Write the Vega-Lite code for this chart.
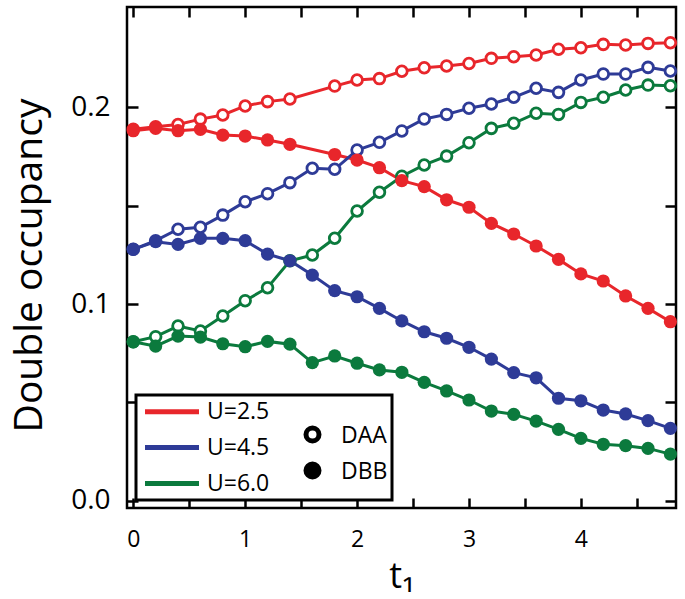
{
  "$schema": "https://vega.github.io/schema/vega-lite/v6.json",
  "width": 549,
  "height": 501,
  "autosize": {"type": "none"},
  "padding": {"left": 127, "top": 7, "right": 9, "bottom": 91},
  "config": {
    "font": "Open Sans",
    "view": {"stroke": "black", "strokeWidth": 2.5},
    "legend": {"strokeWidth": 3},
    "axis": {"labelColor": "black", "titleColor": "black", "tickColor": "black", "tickWidth": 2.5, "domain": false, "grid": false, "labelFlush": false, "titleFontWeight": "normal"}
  },
  "data": {
    "values": [
      {"U": "U=2.5", "type": "DAA", "t": 0.0, "D": 0.1888}, {"U": "U=2.5", "type": "DAA", "t": 0.2, "D": 0.1901}, {"U": "U=2.5", "type": "DAA", "t": 0.4, "D": 0.1913}, {"U": "U=2.5", "type": "DAA", "t": 0.6, "D": 0.1940}, {"U": "U=2.5", "type": "DAA", "t": 0.8, "D": 0.1961}, {"U": "U=2.5", "type": "DAA", "t": 1.0, "D": 0.2007}, {"U": "U=2.5", "type": "DAA", "t": 1.2, "D": 0.2029}, {"U": "U=2.5", "type": "DAA", "t": 1.4, "D": 0.2042}, {"U": "U=2.5", "type": "DAA", "t": 1.8, "D": 0.2108}, {"U": "U=2.5", "type": "DAA", "t": 2.0, "D": 0.2139}, {"U": "U=2.5", "type": "DAA", "t": 2.2, "D": 0.2146}, {"U": "U=2.5", "type": "DAA", "t": 2.4, "D": 0.2183}, {"U": "U=2.5", "type": "DAA", "t": 2.6, "D": 0.2201}, {"U": "U=2.5", "type": "DAA", "t": 2.8, "D": 0.2210}, {"U": "U=2.5", "type": "DAA", "t": 3.0, "D": 0.2223}, {"U": "U=2.5", "type": "DAA", "t": 3.2, "D": 0.2249}, {"U": "U=2.5", "type": "DAA", "t": 3.4, "D": 0.2257}, {"U": "U=2.5", "type": "DAA", "t": 3.6, "D": 0.2266}, {"U": "U=2.5", "type": "DAA", "t": 3.8, "D": 0.2295}, {"U": "U=2.5", "type": "DAA", "t": 4.0, "D": 0.2303}, {"U": "U=2.5", "type": "DAA", "t": 4.2, "D": 0.2320}, {"U": "U=2.5", "type": "DAA", "t": 4.4, "D": 0.2317}, {"U": "U=2.5", "type": "DAA", "t": 4.6, "D": 0.2325}, {"U": "U=2.5", "type": "DAA", "t": 4.8, "D": 0.2328},
      {"U": "U=2.5", "type": "DBB", "t": 0.0, "D": 0.1881}, {"U": "U=2.5", "type": "DBB", "t": 0.2, "D": 0.1893}, {"U": "U=2.5", "type": "DBB", "t": 0.4, "D": 0.1881}, {"U": "U=2.5", "type": "DBB", "t": 0.6, "D": 0.1888}, {"U": "U=2.5", "type": "DBB", "t": 0.8, "D": 0.1859}, {"U": "U=2.5", "type": "DBB", "t": 1.0, "D": 0.1854}, {"U": "U=2.5", "type": "DBB", "t": 1.2, "D": 0.1834}, {"U": "U=2.5", "type": "DBB", "t": 1.4, "D": 0.1812}, {"U": "U=2.5", "type": "DBB", "t": 1.8, "D": 0.1760}, {"U": "U=2.5", "type": "DBB", "t": 2.0, "D": 0.1732}, {"U": "U=2.5", "type": "DBB", "t": 2.2, "D": 0.1693}, {"U": "U=2.5", "type": "DBB", "t": 2.4, "D": 0.1627}, {"U": "U=2.5", "type": "DBB", "t": 2.6, "D": 0.1597}, {"U": "U=2.5", "type": "DBB", "t": 2.8, "D": 0.1530}, {"U": "U=2.5", "type": "DBB", "t": 3.0, "D": 0.1492}, {"U": "U=2.5", "type": "DBB", "t": 3.2, "D": 0.1410}, {"U": "U=2.5", "type": "DBB", "t": 3.4, "D": 0.1356}, {"U": "U=2.5", "type": "DBB", "t": 3.6, "D": 0.1295}, {"U": "U=2.5", "type": "DBB", "t": 3.8, "D": 0.1227}, {"U": "U=2.5", "type": "DBB", "t": 4.0, "D": 0.1153}, {"U": "U=2.5", "type": "DBB", "t": 4.2, "D": 0.1117}, {"U": "U=2.5", "type": "DBB", "t": 4.4, "D": 0.1041}, {"U": "U=2.5", "type": "DBB", "t": 4.6, "D": 0.0978}, {"U": "U=2.5", "type": "DBB", "t": 4.8, "D": 0.0910},
      {"U": "U=4.5", "type": "DAA", "t": 0.0, "D": 0.1278}, {"U": "U=4.5", "type": "DAA", "t": 0.2, "D": 0.1322}, {"U": "U=4.5", "type": "DAA", "t": 0.4, "D": 0.1380}, {"U": "U=4.5", "type": "DAA", "t": 0.6, "D": 0.1390}, {"U": "U=4.5", "type": "DAA", "t": 0.8, "D": 0.1452}, {"U": "U=4.5", "type": "DAA", "t": 1.0, "D": 0.1520}, {"U": "U=4.5", "type": "DAA", "t": 1.2, "D": 0.1561}, {"U": "U=4.5", "type": "DAA", "t": 1.4, "D": 0.1617}, {"U": "U=4.5", "type": "DAA", "t": 1.6, "D": 0.1690}, {"U": "U=4.5", "type": "DAA", "t": 1.8, "D": 0.1685}, {"U": "U=4.5", "type": "DAA", "t": 2.0, "D": 0.1783}, {"U": "U=4.5", "type": "DAA", "t": 2.2, "D": 0.1822}, {"U": "U=4.5", "type": "DAA", "t": 2.4, "D": 0.1880}, {"U": "U=4.5", "type": "DAA", "t": 2.6, "D": 0.1941}, {"U": "U=4.5", "type": "DAA", "t": 2.8, "D": 0.1964}, {"U": "U=4.5", "type": "DAA", "t": 3.0, "D": 0.1995}, {"U": "U=4.5", "type": "DAA", "t": 3.2, "D": 0.2017}, {"U": "U=4.5", "type": "DAA", "t": 3.4, "D": 0.2051}, {"U": "U=4.5", "type": "DAA", "t": 3.6, "D": 0.2097}, {"U": "U=4.5", "type": "DAA", "t": 3.8, "D": 0.2076}, {"U": "U=4.5", "type": "DAA", "t": 4.0, "D": 0.2139}, {"U": "U=4.5", "type": "DAA", "t": 4.2, "D": 0.2169}, {"U": "U=4.5", "type": "DAA", "t": 4.4, "D": 0.2169}, {"U": "U=4.5", "type": "DAA", "t": 4.6, "D": 0.2203}, {"U": "U=4.5", "type": "DAA", "t": 4.8, "D": 0.2185},
      {"U": "U=4.5", "type": "DBB", "t": 0.0, "D": 0.1278}, {"U": "U=4.5", "type": "DBB", "t": 0.2, "D": 0.1317}, {"U": "U=4.5", "type": "DBB", "t": 0.4, "D": 0.1303}, {"U": "U=4.5", "type": "DBB", "t": 0.6, "D": 0.1334}, {"U": "U=4.5", "type": "DBB", "t": 0.8, "D": 0.1334}, {"U": "U=4.5", "type": "DBB", "t": 1.0, "D": 0.1322}, {"U": "U=4.5", "type": "DBB", "t": 1.2, "D": 0.1254}, {"U": "U=4.5", "type": "DBB", "t": 1.4, "D": 0.1220}, {"U": "U=4.5", "type": "DBB", "t": 1.6, "D": 0.1147}, {"U": "U=4.5", "type": "DBB", "t": 1.8, "D": 0.1068}, {"U": "U=4.5", "type": "DBB", "t": 2.0, "D": 0.1037}, {"U": "U=4.5", "type": "DBB", "t": 2.2, "D": 0.0978}, {"U": "U=4.5", "type": "DBB", "t": 2.4, "D": 0.0914}, {"U": "U=4.5", "type": "DBB", "t": 2.6, "D": 0.0859}, {"U": "U=4.5", "type": "DBB", "t": 2.8, "D": 0.0826}, {"U": "U=4.5", "type": "DBB", "t": 3.0, "D": 0.0780}, {"U": "U=4.5", "type": "DBB", "t": 3.2, "D": 0.0720}, {"U": "U=4.5", "type": "DBB", "t": 3.4, "D": 0.0651}, {"U": "U=4.5", "type": "DBB", "t": 3.6, "D": 0.0625}, {"U": "U=4.5", "type": "DBB", "t": 3.8, "D": 0.0521}, {"U": "U=4.5", "type": "DBB", "t": 4.0, "D": 0.0508}, {"U": "U=4.5", "type": "DBB", "t": 4.2, "D": 0.0461}, {"U": "U=4.5", "type": "DBB", "t": 4.4, "D": 0.0441}, {"U": "U=4.5", "type": "DBB", "t": 4.6, "D": 0.0407}, {"U": "U=4.5", "type": "DBB", "t": 4.8, "D": 0.0368},
      {"U": "U=6.0", "type": "DAA", "t": 0.0, "D": 0.0808}, {"U": "U=6.0", "type": "DAA", "t": 0.2, "D": 0.0834}, {"U": "U=6.0", "type": "DAA", "t": 0.4, "D": 0.0888}, {"U": "U=6.0", "type": "DAA", "t": 0.6, "D": 0.0863}, {"U": "U=6.0", "type": "DAA", "t": 0.8, "D": 0.0939}, {"U": "U=6.0", "type": "DAA", "t": 1.0, "D": 0.1017}, {"U": "U=6.0", "type": "DAA", "t": 1.2, "D": 0.1083}, {"U": "U=6.0", "type": "DAA", "t": 1.4, "D": 0.1220}, {"U": "U=6.0", "type": "DAA", "t": 1.6, "D": 0.1249}, {"U": "U=6.0", "type": "DAA", "t": 1.8, "D": 0.1334}, {"U": "U=6.0", "type": "DAA", "t": 2.0, "D": 0.1473}, {"U": "U=6.0", "type": "DAA", "t": 2.2, "D": 0.1568}, {"U": "U=6.0", "type": "DAA", "t": 2.4, "D": 0.1650}, {"U": "U=6.0", "type": "DAA", "t": 2.6, "D": 0.1707}, {"U": "U=6.0", "type": "DAA", "t": 2.8, "D": 0.1752}, {"U": "U=6.0", "type": "DAA", "t": 3.0, "D": 0.1820}, {"U": "U=6.0", "type": "DAA", "t": 3.2, "D": 0.1893}, {"U": "U=6.0", "type": "DAA", "t": 3.4, "D": 0.1919}, {"U": "U=6.0", "type": "DAA", "t": 3.6, "D": 0.1970}, {"U": "U=6.0", "type": "DAA", "t": 3.8, "D": 0.1964}, {"U": "U=6.0", "type": "DAA", "t": 4.0, "D": 0.2025}, {"U": "U=6.0", "type": "DAA", "t": 4.2, "D": 0.2051}, {"U": "U=6.0", "type": "DAA", "t": 4.4, "D": 0.2088}, {"U": "U=6.0", "type": "DAA", "t": 4.6, "D": 0.2113}, {"U": "U=6.0", "type": "DAA", "t": 4.8, "D": 0.2110},
      {"U": "U=6.0", "type": "DBB", "t": 0.0, "D": 0.0808}, {"U": "U=6.0", "type": "DBB", "t": 0.2, "D": 0.0786}, {"U": "U=6.0", "type": "DBB", "t": 0.4, "D": 0.0837}, {"U": "U=6.0", "type": "DBB", "t": 0.6, "D": 0.0832}, {"U": "U=6.0", "type": "DBB", "t": 0.8, "D": 0.0798}, {"U": "U=6.0", "type": "DBB", "t": 1.0, "D": 0.0783}, {"U": "U=6.0", "type": "DBB", "t": 1.2, "D": 0.0810}, {"U": "U=6.0", "type": "DBB", "t": 1.4, "D": 0.0796}, {"U": "U=6.0", "type": "DBB", "t": 1.6, "D": 0.0702}, {"U": "U=6.0", "type": "DBB", "t": 1.8, "D": 0.0736}, {"U": "U=6.0", "type": "DBB", "t": 2.0, "D": 0.0699}, {"U": "U=6.0", "type": "DBB", "t": 2.2, "D": 0.0665}, {"U": "U=6.0", "type": "DBB", "t": 2.4, "D": 0.0653}, {"U": "U=6.0", "type": "DBB", "t": 2.6, "D": 0.0602}, {"U": "U=6.0", "type": "DBB", "t": 2.8, "D": 0.0558}, {"U": "U=6.0", "type": "DBB", "t": 3.0, "D": 0.0512}, {"U": "U=6.0", "type": "DBB", "t": 3.2, "D": 0.0456}, {"U": "U=6.0", "type": "DBB", "t": 3.4, "D": 0.0439}, {"U": "U=6.0", "type": "DBB", "t": 3.6, "D": 0.0405}, {"U": "U=6.0", "type": "DBB", "t": 3.8, "D": 0.0363}, {"U": "U=6.0", "type": "DBB", "t": 4.0, "D": 0.0317}, {"U": "U=6.0", "type": "DBB", "t": 4.2, "D": 0.0287}, {"U": "U=6.0", "type": "DBB", "t": 4.4, "D": 0.0280}, {"U": "U=6.0", "type": "DBB", "t": 4.6, "D": 0.0266}, {"U": "U=6.0", "type": "DBB", "t": 4.8, "D": 0.0237}
    ]
  },
  "layer": [
    {
      "mark": {"type": "line", "strokeWidth": 3},
      "encoding": {
        "detail": {"field": "type"},
        "color": {
          "field": "U", "type": "nominal",
          "scale": {"domain": ["U=2.5", "U=4.5", "U=6.0", " ", "DAA", "DBB"], "range": ["#e8262b", "#2e3b97", "#0b7a3d", "transparent", "black", "black"]},
          "legend": {
            "orient": "none", "legendX": 9, "legendY": 388, "title": null,
            "columns": 2, "columnPadding": 25, "rowPadding": -6, "padding": 4,
            "symbolSize": 400, "symbolStrokeWidth": 5,
            "symbolType": {"expr": "datum.value === 'DAA' ? 'M0.65,-1.3A0.65,0.65,0,1,1,-0.65,-1.3A0.65,0.65,0,1,1,0.65,-1.3ZM0.65,-1.3A0.65,0.65,0,1,0,-0.65,-1.3A0.65,0.65,0,1,0,0.65,-1.3Z' : (datum.value === 'DBB' ? 'M0.65,-1.3A0.65,0.65,0,1,1,-0.65,-1.3A0.65,0.65,0,1,1,0.65,-1.3Z' : 'M-0.75,0H4.65')"},
            "labelFontSize": 23, "labelColor": "black",
            "labelOffset": {"expr": "(datum.value === 'DAA' || datum.value === 'DBB') ? 16 : 42"},
            "labelBaseline": {"expr": "(datum.value === 'DAA' || datum.value === 'DBB') ? 'bottom' : 'middle'"},
            "strokeColor": "black", "fillColor": "white"
          }
        },
        "x": {"field": "t", "type": "quantitative", "scale": {"domain": [-0.056, 4.85], "nice": false, "zero": false},
          "axis": {"orient": "bottom", "values": [0, 0.5, 1, 1.5, 2, 2.5, 3, 3.5, 4, 4.5], "labelExpr": "datum.value % 1 === 0 ? format(datum.value, 'd') : ''",
            "tickSize": -10, "labelPadding": 30, "labelFontSize": 23, "title": "t₁", "titleFontSize": 36, "titlePadding": 8,
            "encode": {"ticks": {"update": {"y2": {"signal": "datum.value % 1 === 0 ? -10 : -5"}}}}}},
        "y": {"field": "D", "type": "quantitative", "scale": {"domain": [-0.0037, 0.251], "nice": false, "zero": false},
          "axis": {"orient": "left", "values": [0, 0.05, 0.1, 0.15, 0.2], "labelExpr": "abs(datum.value * 10 - round(datum.value * 10)) < 0.001 ? format(datum.value, '.1f') : ''",
            "tickSize": -11, "labelPadding": 28, "labelFontSize": 28, "title": "Double occupancy", "titleFontSize": 39, "titlePadding": 21, "titleY": 258,
            "encode": {"ticks": {"update": {"x2": {"signal": "abs(datum.value * 10 - round(datum.value * 10)) < 0.001 ? 11 : 6"}}}}}}
      }
    },
    {
      "transform": [{"filter": "datum.type === 'DAA'"}],
      "mark": {"type": "point", "shape": "circle", "filled": false, "fill": "white", "strokeWidth": 2.8, "size": 115, "opacity": 1},
      "encoding": {
        "color": {"field": "U", "type": "nominal", "legend": null,
          "scale": {"domain": ["U=2.5", "U=4.5", "U=6.0", " ", "DAA", "DBB"], "range": ["#e8262b", "#2e3b97", "#0b7a3d", "transparent", "black", "black"]}},
        "x": {"field": "t", "type": "quantitative",
          "axis": {"orient": "top", "values": [0, 0.5, 1, 1.5, 2, 2.5, 3, 3.5, 4, 4.5], "labels": false, "title": null, "tickSize": -10,
            "encode": {"ticks": {"update": {"y2": {"signal": "datum.value % 1 === 0 ? 10 : 5"}}}}}},
        "y": {"field": "D", "type": "quantitative",
          "axis": {"orient": "right", "values": [0, 0.05, 0.1, 0.15, 0.2], "labels": false, "title": null, "tickSize": -11,
            "encode": {"ticks": {"update": {"x2": {"signal": "abs(datum.value * 10 - round(datum.value * 10)) < 0.001 ? -11 : -6"}}}}}}
      }
    },
    {
      "transform": [{"filter": "datum.type === 'DBB'"}],
      "mark": {"type": "point", "shape": "circle", "filled": true, "size": 175, "opacity": 1},
      "encoding": {
        "color": {"field": "U", "type": "nominal", "legend": null,
          "scale": {"domain": ["U=2.5", "U=4.5", "U=6.0", " ", "DAA", "DBB"], "range": ["#e8262b", "#2e3b97", "#0b7a3d", "transparent", "black", "black"]}},
        "x": {"field": "t", "type": "quantitative", "axis": null},
        "y": {"field": "D", "type": "quantitative", "axis": null}
      }
    }
  ],
  "resolve": {"axis": {"x": "independent", "y": "independent"}}
}
